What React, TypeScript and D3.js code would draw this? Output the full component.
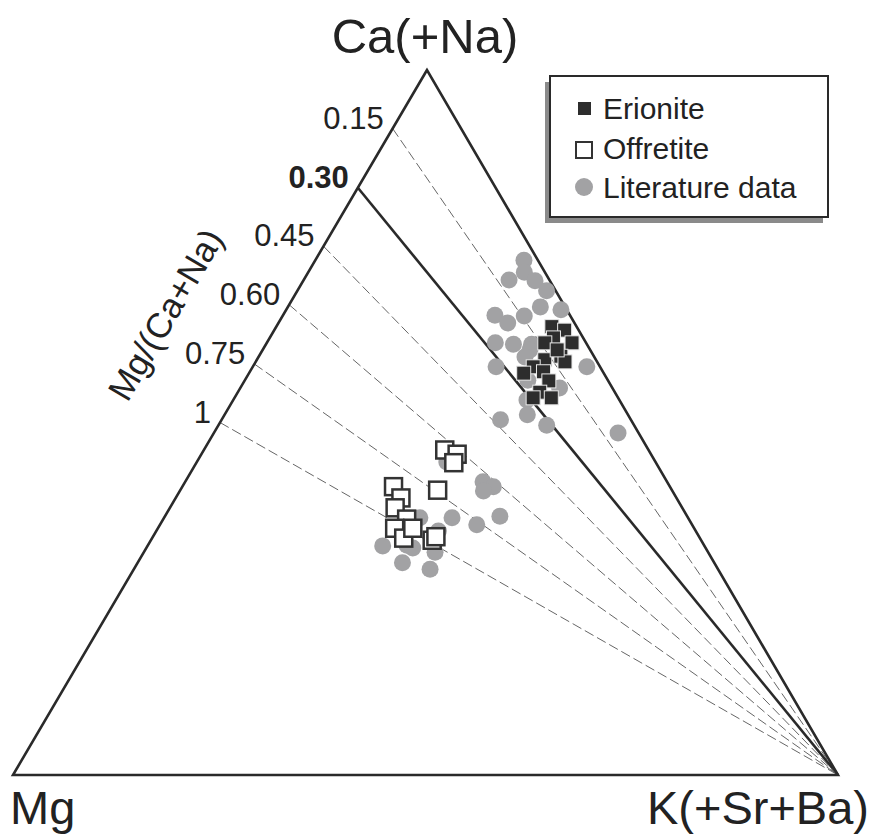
import * as d3 from "d3"

// ternary values in percent: [Ca(+Na), Mg, K(+Sr+Ba)]
const erionite: number[][] = [
  [63.6, 3.0, 33.4], [63.1, 1.7, 35.2], [62.0, 3.6, 34.4], [61.3, 1.7, 37.0],
  [61.3, 5.0, 33.7], [59.4, 4.0, 36.6], [58.6, 3.9, 37.5], [58.9, 6.2, 34.9],
  [57.9, 8.1, 34.0], [57.0, 9.7, 33.3], [57.2, 7.2, 35.6], [55.9, 7.2, 36.9],
  [54.3, 9.1, 36.6], [53.5, 10.3, 36.2], [53.5, 8.1, 38.4], [60.3, 4.0, 35.7],
]
const offretite: number[][] = [
  [46.1, 24.7, 29.2], [45.5, 23.5, 31.0], [44.3, 24.5, 31.2], [40.4, 28.4, 31.2],
  [40.9, 33.6, 25.6], [39.3, 33.4, 27.3], [37.9, 34.8, 27.3], [36.3, 34.2, 29.5],
  [35.0, 36.2, 28.7], [33.6, 35.9, 30.5], [35.0, 34.1, 30.9], [33.3, 32.6, 34.1],
  [33.8, 31.9, 34.3],
]
const literature: number[][] = [
  [73.0, 1.7, 25.3], [70.2, 4.9, 24.9], [71.3, 2.5, 26.2], [70.1, 1.8, 28.1],
  [68.7, 1.1, 30.2], [66.4, 3.0, 30.6], [66.0, 0.7, 33.3], [65.1, 5.6, 29.3],
  [65.2, 9.1, 25.7], [64.1, 8.1, 27.8], [61.3, 11.0, 27.7], [61.1, 8.9, 30.0],
  [61.1, 6.7, 32.2], [57.9, 12.6, 29.5], [57.9, 1.6, 40.5], [56.0, 9.7, 34.3],
  [54.9, 6.4, 38.7], [53.2, 11.2, 35.6], [51.1, 12.3, 36.7], [50.4, 15.9, 33.8],
  [49.6, 10.5, 39.8], [48.5, 2.5, 49.0], [60.3, 7.3, 32.4], [59.3, 8.4, 32.3],
  [44.4, 25.3, 30.3], [41.6, 22.3, 36.1], [40.9, 21.5, 37.7], [40.3, 23.0, 36.8],
  [36.7, 22.7, 40.6], [35.5, 26.1, 38.4], [36.5, 28.6, 34.9], [34.6, 31.2, 34.2],
  [36.5, 32.5, 31.0], [32.5, 39.0, 28.5], [32.6, 36.0, 31.4], [31.6, 33.1, 35.3],
  [30.1, 37.9, 32.1], [29.2, 34.9, 35.9], [32.2, 35.5, 32.3],
]
// Mg/(Ca+Na) guide lines: label and Mg share on the Ca–Mg edge
const ratioLabels = ["0.15", "0.30", "0.45", "0.60", "0.75", "1"]
const ratioEdgeMg = [8.3, 16.7, 25.0, 33.3, 41.7, 50.0]
const solidRatio = "0.30"

const W = 873
const H = 836
const APEX = { x: 427, y: 70 }
const LEFT = { x: 13, y: 775 }
const RIGHT = { x: 838, y: 775 }

const yScale = d3.scaleLinear().domain([0, 100]).range([LEFT.y, APEX.y])
const kScale = d3.scaleLinear().domain([0, 100]).range([0, RIGHT.x - LEFT.x])
const caShift = d3.scaleLinear().domain([0, 100]).range([0, APEX.x - LEFT.x])

function project(d: number[]) {
  const [ca, , k] = d
  return { x: LEFT.x + kScale(k) + caShift(ca), y: yScale(ca) }
}

const ink = "#2a2a2a"
const grey = "#a2a2a4"
const font = "'Liberation Sans', Arial, Helvetica, sans-serif"

export default function App() {
  const tri = d3.line()([
    [APEX.x, APEX.y], [LEFT.x, LEFT.y], [RIGHT.x, RIGHT.y],
  ]) + "Z"
  const edgeAngle = (Math.atan2(LEFT.y - APEX.y, APEX.x - LEFT.x) * 180) / Math.PI
  return (
    <div style={{ position: "absolute", left: 0, top: 0 }}>
      <svg width={W} height={H} style={{ display: "block", background: "#fff" }} fontFamily={font}>
        {ratioLabels.map((lab, i) => {
          const mg = ratioEdgeMg[i]
          const p = project([100 - mg, mg, 0])
          const solid = lab === solidRatio
          return (
            <g key={lab}>
              <line
                x1={p.x} y1={p.y} x2={RIGHT.x} y2={RIGHT.y}
                stroke={solid ? ink : "#555"}
                strokeWidth={solid ? 2.6 : 0.9}
                strokeDasharray={solid ? undefined : "10 4"}
              />
              <text
                x={p.x - 9} y={p.y}
                textAnchor="end"
                fontSize={31}
                fontWeight={solid ? 700 : 400}
                fill="#222"
              >
                {lab}
              </text>
            </g>
          )
        })}
        <path d={tri} fill="none" stroke={ink} strokeWidth={2.6} strokeLinejoin="miter" />

        {literature.map((d, i) => {
          const p = project(d)
          return <circle key={i} cx={p.x} cy={p.y} r={8.5} fill={grey} />
        })}
        {erionite.map((d, i) => {
          const p = project(d)
          return (
            <rect key={i} x={p.x - 7} y={p.y - 7} width={14} height={14}
              fill="#2d2d2d" stroke="#e8e8e8" strokeWidth={1} />
          )
        })}
        {offretite.map((d, i) => {
          const p = project(d)
          return (
            <rect key={i} x={p.x - 8.5} y={p.y - 8.5} width={17} height={17}
              fill="#fff" stroke="#333" strokeWidth={2.5} />
          )
        })}

        <text x={APEX.x - 2} y={53} textAnchor="middle" fontSize={49} fill="#222">Ca(+Na)</text>
        <text x={10} y={824} fontSize={47} fill="#222">Mg</text>
        <text x={869} y={824} textAnchor="end" fontSize={47} fill="#222">K(+Sr+Ba)</text>
        <text
          transform={`translate(168,316) rotate(${-edgeAngle})`}
          textAnchor="middle"
          dominantBaseline="middle"
          fontSize={35}
          fill="#222"
        >
          Mg/(Ca+Na)
        </text>

        <g>
          <rect x={545} y={82} width={278} height={141} fill="#8a8a8a" />
          <rect x={550} y={76} width={278} height={141} fill="#fff" stroke={ink} strokeWidth={2} />
          <rect x={578} y={102} width={13} height={13} fill="#2d2d2d" />
          <text x={603} y={119} fontSize={30} fill="#222">Erionite</text>
          <rect x={576} y={142} width={16} height={16} fill="#fff" stroke="#333" strokeWidth={2} />
          <text x={603} y={159} fontSize={30} fill="#222">Offretite</text>
          <circle cx={584} cy={187} r={9} fill={grey} />
          <text x={603} y={198} fontSize={30} fill="#222">Literature data</text>
        </g>
      </svg>
    </div>
  )
}
